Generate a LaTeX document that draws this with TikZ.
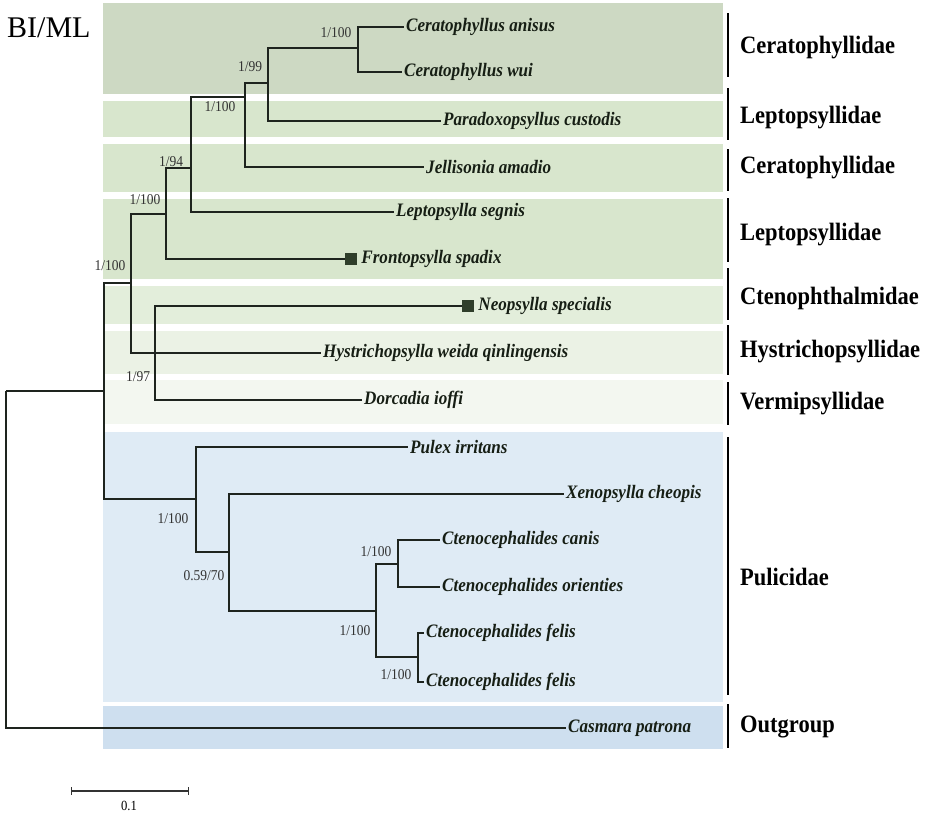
\documentclass[tikz,border=0pt]{standalone}
\usepackage{fontspec}
\setmainfont{Liberation Serif}
\newfontfamily\narrowserif[FakeStretch=0.9]{Liberation Serif}
\usetikzlibrary{positioning}

\definecolor{bandone}{RGB}{205,217,195}
\definecolor{bandtwo}{RGB}{216,230,205}
\definecolor{bandthree}{RGB}{227,238,219}
\definecolor{bandfour}{RGB}{235,242,229}
\definecolor{bandfive}{RGB}{243,247,240}
\definecolor{bandsix}{RGB}{223,235,245}
\definecolor{bandseven}{RGB}{206,223,239}
\definecolor{treeline}{RGB}{30,36,30}
\definecolor{taxtext}{RGB}{22,30,20}
\definecolor{tipgreen}{RGB}{47,62,42}

\tikzset{
	branch/.style={line width=1.2pt, color=treeline},
	taxon/.style={anchor=west, inner sep=2pt, text=taxtext, font=\narrowserif\fontsize{19}{19}\selectfont\bfseries\itshape},
	support/.style={inner sep=0pt, text=black!80, font=\narrowserif\fontsize{15}{15}\selectfont},
	family/.style={anchor=west, inner sep=0pt, font=\narrowserif\fontsize{25}{25}\selectfont\bfseries},
	groupbar/.style={line width=2.4pt},
	tipbox/.style={fill=tipgreen, minimum size=12pt, inner sep=0pt},
}

\begin{document}
\begin{tikzpicture}[x=1pt, y=-1pt]
			%%%%% START %%%%%
			\useasboundingbox (0, 0) rectangle (935, 817);
			
			% bands
			\fill[bandone] (103, 3) rectangle (723, 94);
			\fill[bandtwo] (103, 101) rectangle (723, 137);
			\fill[bandtwo] (103, 144) rectangle (723, 192);
			\fill[bandtwo] (103, 199) rectangle (723, 279);
			\fill[bandthree] (103, 286) rectangle (723, 324);
			\fill[bandfour] (103, 331) rectangle (723, 374);
			\fill[bandfive] (103, 380) rectangle (723, 424);
			\fill[bandsix] (103, 432) rectangle (723, 702);
			\fill[bandseven] (103, 706) rectangle (723, 749);
			
			\node[anchor=base west, inner sep=0pt, font=\fontsize{30}{30}\selectfont] (title) at (7, 37) {BI/ML};
			
			% internal nodes
			\coordinate (root) at (6, 391);
			\coordinate (ing) at (104, 391);
			\coordinate (F) at (131, 283);
			\coordinate (E) at (166, 214);
			\coordinate (D) at (191, 168);
			\coordinate (C) at (245, 97);
			\coordinate (B) at (268, 83);
			\coordinate (A) at (358, 48);
			\coordinate (G) at (155, 353);
			\coordinate (H) at (196, 499);
			\coordinate (I) at (229, 552);
			\coordinate (J) at (376, 611);
			\coordinate (K) at (398, 564);
			\coordinate (L) at (418, 657);
			
			% taxa
			\node[taxon] (anisus) at (404, 27) {Ceratophyllus anisus};
			\node[taxon] (wui) at (402, 72) {Ceratophyllus wui};
			\node[taxon] (custodis) at (441, 121) {Paradoxopsyllus custodis};
			\node[taxon] (amadio) at (424, 167) {Jellisonia amadio};
			\node[taxon] (segnis) at (394, 212) {Leptopsylla segnis};
			\node[tipbox] (spadixbox) at (351, 259) {};
			\node[taxon, right=2pt of spadixbox] (spadix) {Frontopsylla spadix};
			\node[tipbox] (specialisbox) at (468, 306) {};
			\node[taxon, right=2pt of specialisbox] (specialis) {Neopsylla specialis};
			\node[taxon] (weida) at (321, 353) {Hystrichopsylla weida qinlingensis};
			\node[taxon] (ioffi) at (362, 400) {Dorcadia ioffi};
			\node[taxon] (irritans) at (408, 447) {Pulex irritans};
			\node[taxon] (cheopis) at (564, 494) {Xenopsylla cheopis};
			\node[taxon] (canis) at (440, 540) {Ctenocephalides canis};
			\node[taxon] (orienties) at (440, 587) {Ctenocephalides orienties};
			\node[taxon] (felisa) at (424, 633) {Ctenocephalides felis};
			\node[taxon] (felisb) at (424, 682) {Ctenocephalides felis};
			\node[taxon] (patrona) at (566, 728) {Casmara patrona};
			
			% branches
			\draw[branch] (root) -- (ing);
			\draw[branch] (root) |- (patrona.west);
			\draw[branch] (ing) |- (F);
			\draw[branch] (ing) |- (H);
			\draw[branch] (F) |- (E);
			\draw[branch] (F) |- (weida.west);
			\draw[branch] (E) |- (D);
			\draw[branch] (E) |- (spadixbox.west);
			\draw[branch] (D) |- (C);
			\draw[branch] (D) |- (segnis.west);
			\draw[branch] (C) |- (B);
			\draw[branch] (C) |- (amadio.west);
			\draw[branch] (B) |- (A);
			\draw[branch] (B) |- (custodis.west);
			\draw[branch] (A) |- (anisus.west);
			\draw[branch] (A) |- (wui.west);
			\draw[branch] (G) |- (specialisbox.west);
			\draw[branch] (G) |- (ioffi.west);
			\draw[branch] (H) |- (irritans.west);
			\draw[branch] (H) |- (I);
			\draw[branch] (I) |- (cheopis.west);
			\draw[branch] (I) |- (J);
			\draw[branch] (J) |- (K);
			\draw[branch] (J) |- (L);
			\draw[branch] (K) |- (canis.west);
			\draw[branch] (K) |- (orienties.west);
			\draw[branch] (L) |- (felisa.west);
			\draw[branch] (L) |- (felisb.west);
			
			% support values
			\node[support] (supA) at (336, 33) {1/100};
			\node[support] (supB) at (250, 67) {1/99};
			\node[support] (supC) at (220, 107) {1/100};
			\node[support] (supD) at (171, 162) {1/94};
			\node[support] (supE) at (145, 200) {1/100};
			\node[support] (supF) at (110, 266) {1/100};
			\node[support] (supG) at (138, 377) {1/97};
			\node[support] (supH) at (173, 519) {1/100};
			\node[support] (supI) at (204, 576) {0.59/70};
			\node[support] (supJ) at (355, 631) {1/100};
			\node[support] (supK) at (376, 552) {1/100};
			\node[support] (supL) at (396, 675) {1/100};
			
			% families
			\draw[groupbar] (728, 13) -- (728, 77);
			\node[family] (fam1) at (740, 48) {Ceratophyllidae};
			\draw[groupbar] (728, 88) -- (728, 140);
			\node[family] (fam2) at (740, 118) {Leptopsyllidae};
			\draw[groupbar] (728, 149) -- (728, 191);
			\node[family] (fam3) at (740, 168) {Ceratophyllidae};
			\draw[groupbar] (728, 198) -- (728, 262);
			\node[family] (fam4) at (740, 235) {Leptopsyllidae};
			\draw[groupbar] (728, 268) -- (728, 320);
			\node[family] (fam5) at (740, 298) {Ctenophthalmidae};
			\draw[groupbar] (728, 325) -- (728, 375);
			\node[family] (fam6) at (740, 352) {Hystrichopsyllidae};
			\draw[groupbar] (728, 382) -- (728, 425);
			\node[family] (fam7) at (740, 404) {Vermipsyllidae};
			\draw[groupbar] (728, 437) -- (728, 695);
			\node[family] (fam8) at (740, 577) {Pulicidae};
			\draw[groupbar] (728, 704) -- (728, 748);
			\node[family] (fam9) at (740, 727) {Outgroup};
			
			% scale bar
			\coordinate (sbl) at (71, 791);
			\coordinate (sbr) at (189, 791);
			\draw[line width=1.2pt, black!80, |-|] (sbl) -- (sbr);
			\node[inner sep=0pt, font=\narrowserif\fontsize{14}{14}\selectfont] (sblabel) at (129, 806) {0.1};
			
			%%%%% END %%%%%
		\end{tikzpicture}
\end{document}
